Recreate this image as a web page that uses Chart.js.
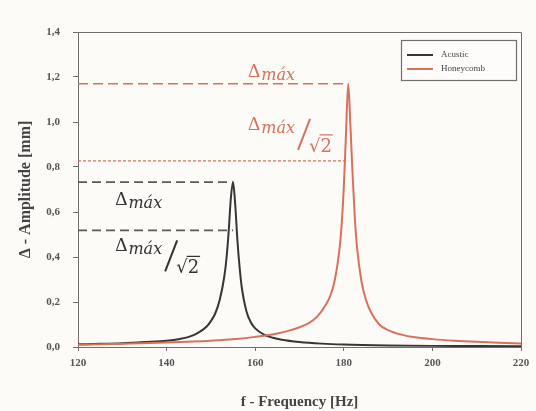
<!DOCTYPE html>
<html>
<head>
<meta charset="utf-8">
<script src="https://cdn.jsdelivr.net/npm/chart.js@4.4.1/dist/chart.umd.min.js"></script>
<style>
  html, body { margin: 0; padding: 0; background: #fcfbf8; }
  canvas { display: block; }
</style>
</head>
<body>
<canvas id="chart" width="536" height="411"></canvas>
<script>
// Frequency response - amplitude vs frequency
const seriesLabels = ['Acustic', 'Honeycomb'];

const acusticFreq = [120, 125, 130, 135, 140, 143, 145, 147, 149, 150, 151, 152, 153, 153.5, 154, 154.5, 155,
    155.5, 156, 156.5, 157, 158, 159, 160, 162, 164, 166, 170, 175, 180, 190, 200, 210, 220];
const acusticAmp = [0.012, 0.014, 0.017, 0.022, 0.028, 0.036, 0.045, 0.062, 0.09, 0.115, 0.15, 0.21, 0.31, 0.39, 0.51, 0.66, 0.733,
    0.63, 0.47, 0.35, 0.26, 0.16, 0.11, 0.083, 0.055, 0.041, 0.032, 0.022, 0.015, 0.011, 0.007, 0.005, 0.004, 0.003];

const honeycombFreq = [120, 130, 140, 150, 155, 160, 165, 168, 170, 172, 174, 176, 177, 178, 179, 179.5, 180, 180.5, 181,
    181.5, 182, 182.5, 183, 184, 185, 186, 188, 190, 193, 196, 200, 205, 210, 215, 220];
const honeycombAmp = [0.01, 0.014, 0.02, 0.028, 0.034, 0.045, 0.06, 0.075, 0.088, 0.105, 0.135, 0.19, 0.23, 0.30, 0.43, 0.54, 0.71, 0.95, 1.17,
    0.98, 0.76, 0.57, 0.44, 0.29, 0.21, 0.16, 0.10, 0.075, 0.055, 0.043, 0.035, 0.028, 0.023, 0.019, 0.016];

// peak frequency and amplitude of each curve
const acusticPeak = [155, 0.733];
const honeycombPeak = [181, 1.17];

const xTicks = [120, 140, 160, 180, 200, 220];
const yTicks = [0, 0.2, 0.4, 0.6, 0.8, 1.0, 1.2, 1.4];

const BLACK = '#363636';
const RED = '#d8705c';

function toPoints(xs, ys) {
    return xs.map((x, i) => ({ x: x, y: ys[i] }));
}

function refLine(peak, factor) {
    return [{ x: xTicks[0], y: peak[1] * factor }, { x: peak[0], y: peak[1] * factor }];
}

// delta labels: anchor in data coords
const deltaLabels = [
    { x: 128.4, y: 0.63, color: '#333', sqrt: false },
    { x: 128.4, y: 0.425, color: '#333', sqrt: true },
    { x: 158.4, y: 1.2, color: RED, sqrt: false },
    { x: 158.4, y: 0.965, color: RED, sqrt: true }
];

const annotationPlugin = {
    id: 'annotations',
    afterDatasetsDraw(chart) {
        const ctx = chart.ctx;
        const xs = chart.scales.x, ys = chart.scales.y;
        const area = chart.chartArea;
        ctx.save();

        // frame top and right
        ctx.strokeStyle = '#6e6e6e';
        ctx.lineWidth = 1;
        ctx.beginPath();
        ctx.moveTo(area.left, area.top + 0.5);
        ctx.lineTo(area.right + 0.5, area.top + 0.5);
        ctx.lineTo(area.right + 0.5, area.bottom);
        ctx.stroke();

        deltaLabels.forEach(l => {
            const px = xs.getPixelForValue(l.x);
            const py = ys.getPixelForValue(l.y);
            ctx.fillStyle = l.color;
            ctx.strokeStyle = l.color;
            ctx.textBaseline = 'alphabetic';
            ctx.font = '19px "Liberation Serif", serif';
            ctx.fillText('Δ', px, py);
            const dw = ctx.measureText('Δ').width;
            ctx.font = 'italic 16px "DejaVu Serif", serif';
            ctx.fillText('máx', px + dw + 1, py + 3);
            const end = px + dw + 1 + ctx.measureText('máx').width;
            if (l.sqrt) {
                ctx.lineWidth = 2;
                ctx.beginPath();
                ctx.moveTo(end + 3, py + 20);
                ctx.lineTo(end + 15, py - 11);
                ctx.stroke();
                ctx.font = '18px "DejaVu Serif", serif';
                const sx = end + 14, sy = py + 22;
                ctx.fillText('√2', sx, sy);
                const rw = ctx.measureText('√').width;
                const tw = ctx.measureText('√2').width;
                ctx.lineWidth = 1.2;
                ctx.beginPath();
                ctx.moveTo(sx + rw - 1, sy - 17);
                ctx.lineTo(sx + tw + 1, sy - 17);
                ctx.stroke();
            }
        });

        // legend box
        const bx = 401, by = 40, bw = 115, bh = 40;
        ctx.fillStyle = '#fdfcfa';
        ctx.fillRect(bx, by, bw, bh);
        ctx.strokeStyle = '#707070';
        ctx.lineWidth = 1.2;
        ctx.strokeRect(bx + 0.5, by + 0.5, bw, bh);
        const cols = [BLACK, RED];
        ctx.font = '9px "Liberation Serif", serif';
        ctx.textBaseline = 'middle';
        seriesLabels.forEach((lab, i) => {
            const yy = by + 15 + i * 14;
            ctx.strokeStyle = cols[i];
            ctx.lineWidth = 2;
            ctx.beginPath();
            ctx.moveTo(bx + 6, yy);
            ctx.lineTo(bx + 32, yy);
            ctx.stroke();
            ctx.fillStyle = '#444';
            ctx.fillText(lab, bx + 40, yy);
        });
        ctx.restore();
    }
};

const tickFont = { family: '"Liberation Serif", serif', size: 11, weight: 'bold' };

new Chart(document.getElementById('chart'), {
    type: 'scatter',
    data: {
        datasets: [
            {
                label: 'Acustic Δmáx', data: refLine(acusticPeak, 1), showLine: true,
                borderColor: '#5a5a5a', borderWidth: 1.6, borderDash: [9, 5], pointRadius: 0
            },
            {
                label: 'Acustic Δmáx/√2', data: refLine(acusticPeak, Math.SQRT1_2), showLine: true,
                borderColor: '#5a5a5a', borderWidth: 1.6, borderDash: [9, 5], pointRadius: 0
            },
            {
                label: 'Honeycomb Δmáx', data: refLine(honeycombPeak, 1), showLine: true,
                borderColor: RED, borderWidth: 1.4, borderDash: [10, 5], pointRadius: 0
            },
            {
                label: 'Honeycomb Δmáx/√2', data: refLine(honeycombPeak, Math.SQRT1_2), showLine: true,
                borderColor: RED, borderWidth: 1.2, borderDash: [3, 2], pointRadius: 0
            },
            {
                label: seriesLabels[1], data: toPoints(honeycombFreq, honeycombAmp), showLine: true,
                borderColor: RED, borderWidth: 2, pointRadius: 0, cubicInterpolationMode: 'monotone'
            },
            {
                label: seriesLabels[0], data: toPoints(acusticFreq, acusticAmp), showLine: true,
                borderColor: BLACK, borderWidth: 2, pointRadius: 0, cubicInterpolationMode: 'monotone'
            }
        ]
    },
    options: {
        responsive: false,
        animation: false,
        layout: { padding: { top: 32, right: 15, left: 0, bottom: 0 } },
        plugins: {
            legend: { display: false },
            tooltip: { enabled: false }
        },
        scales: {
            x: {
                type: 'linear',
                min: 120,
                max: 220,
                afterBuildTicks: s => { s.ticks = xTicks.map(v => ({ value: v })); },
                afterFit: s => { s.height = 64; },
                ticks: { color: '#555', font: tickFont, padding: 6 },
                grid: { drawOnChartArea: false, drawTicks: true, tickLength: 4, color: '#6e6e6e' },
                border: { display: true, color: '#6e6e6e', width: 1 },
                title: {
                    display: true, text: 'f - Frequency [Hz]', color: '#444',
                    font: { family: '"Liberation Serif", serif', size: 15, weight: 'bold' },
                    padding: { top: 8, bottom: 0 }
                }
            },
            y: {
                min: 0,
                max: 1.4,
                afterBuildTicks: s => { s.ticks = yTicks.map(v => ({ value: v })); },
                afterFit: s => { s.width = 78; },
                ticks: {
                    color: '#555', font: tickFont, padding: 13,
                    callback: v => v.toFixed(1).replace('.', ',')
                },
                grid: { drawOnChartArea: false, drawTicks: true, tickLength: 5, color: '#6e6e6e' },
                border: { display: true, color: '#6e6e6e', width: 1 },
                title: {
                    display: true, text: 'Δ - Amplitude [mm]', color: '#444',
                    font: { family: '"Liberation Serif", serif', size: 16, weight: 'bold' },
                    padding: { top: 16, bottom: 0 }
                }
            }
        }
    },
    plugins: [annotationPlugin]
});
</script>
</body>
</html>
